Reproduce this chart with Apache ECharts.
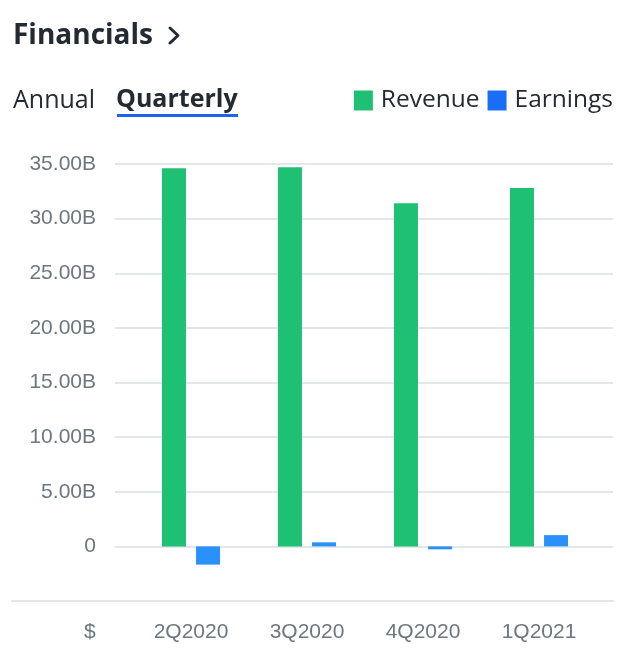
<!DOCTYPE html>
<html><head><meta charset="utf-8">
<script src="https://cdn.jsdelivr.net/npm/echarts@6/dist/echarts.min.js"></script>
<style>html,body{margin:0;padding:0;background:#fff}#c{width:644px;height:670px}</style>
</head><body><div id="c"></div>
<script>
const categories = ['2Q2020', '3Q2020', '4Q2020', '1Q2021'];
const revenue = [34.6, 34.7, 31.4, 32.8];   // billions
const earnings = [-1.67, 0.37, -0.27, 1.03]; // billions
const yMin = -5, yMax = 35, yStep = 5;

const chart = echarts.init(document.getElementById('c'), null, {renderer: 'canvas'});
const FONT = '"Liberation Sans", Arial, sans-serif';
const HFONT = '"Open Sans", "Noto Sans", sans-serif';
const gridColor = '#e3e6ea';
const labelColor = '#6e7780';
const ink = '#232a31';

chart.setOption({
  animation: false,
  title: [
    {text: 'Financials', left: 13, top: 22, padding: 0, textStyle: {fontFamily: HFONT, fontSize: 28, fontWeight: 'bold', color: ink}},
    {text: 'Annual', left: 13, top: 88, padding: 0, textStyle: {fontFamily: HFONT, fontSize: 25, fontWeight: 'normal', color: ink}},
    {text: 'Quarterly', left: 116, top: 87, padding: 0, textStyle: {fontFamily: HFONT, fontSize: 25, fontWeight: 'bold', color: ink}},
    {text: '$', left: 84, top: 622, padding: 0, textStyle: {fontFamily: FONT, fontSize: 21, fontWeight: 'normal', color: labelColor}}
  ],
  graphic: [
    {type: 'polyline', shape: {points: [[170, 28], [178, 35.5], [170, 43]]},
      style: {stroke: ink, lineWidth: 3, fill: null, lineCap: 'round', lineJoin: 'round'}},
    {type: 'rect', shape: {x: 117, y: 114, width: 121, height: 3}, style: {fill: '#1d63ed'}}
  ],
  legend: {
    right: 31, top: 88, padding: 0, itemWidth: 19, itemHeight: 20, itemGap: 8,
    icon: 'rect',
    textStyle: {fontFamily: HFONT, fontSize: 24.5, color: ink, padding: [4, 0, 0, 3]},
    data: [
      {name: 'Revenue', itemStyle: {color: '#1ec074'}},
      {name: 'Earnings', itemStyle: {color: '#1a6ef5'}}
    ]
  },
  grid: [
    {left: 115, right: 31, top: 164, bottom: 69},
    {left: 133, right: 47, top: 164, bottom: 69},
    {left: 12, right: 31, top: 164, bottom: 69}
  ],
  xAxis: [
    {gridIndex: 0, type: 'category', data: categories, show: false},
    {gridIndex: 1, type: 'category', data: categories,
      axisLine: {show: false}, axisTick: {show: false},
      axisLabel: {margin: 21, fontFamily: FONT, fontSize: 21, color: labelColor}},
    {gridIndex: 2, type: 'category', data: categories,
      axisLine: {show: true, onZero: false, lineStyle: {color: gridColor, width: 2}}, axisTick: {show: false}, axisLabel: {show: false}}
  ],
  yAxis: [
    {gridIndex: 0, type: 'value', min: yMin, max: yMax, interval: yStep,
      axisLine: {show: false}, axisTick: {show: false},
      splitLine: {show: true, lineStyle: {color: gridColor, width: 2}},
      axisLabel: {margin: 19, fontFamily: FONT, fontSize: 21, color: labelColor,
        formatter: v => v === 0 ? '0' : (v < 0 ? '' : v.toFixed(2) + 'B')}},
    {gridIndex: 1, type: 'value', min: yMin, max: yMax, interval: yStep, show: false, splitLine: {show: false}},
    {gridIndex: 2, type: 'value', min: yMin, max: yMax, interval: yStep, show: false, splitLine: {show: false}}
  ],
  series: [
    {name: 'Revenue', type: 'bar', xAxisIndex: 1, yAxisIndex: 1, data: revenue,
      barWidth: 24, barGap: '42%', itemStyle: {color: '#1ec074'}},
    {name: 'Earnings', type: 'bar', xAxisIndex: 1, yAxisIndex: 1, data: earnings,
      barWidth: 24, barGap: '42%', itemStyle: {color: '#2a90fb'}}
  ]
});
</script></body></html>
